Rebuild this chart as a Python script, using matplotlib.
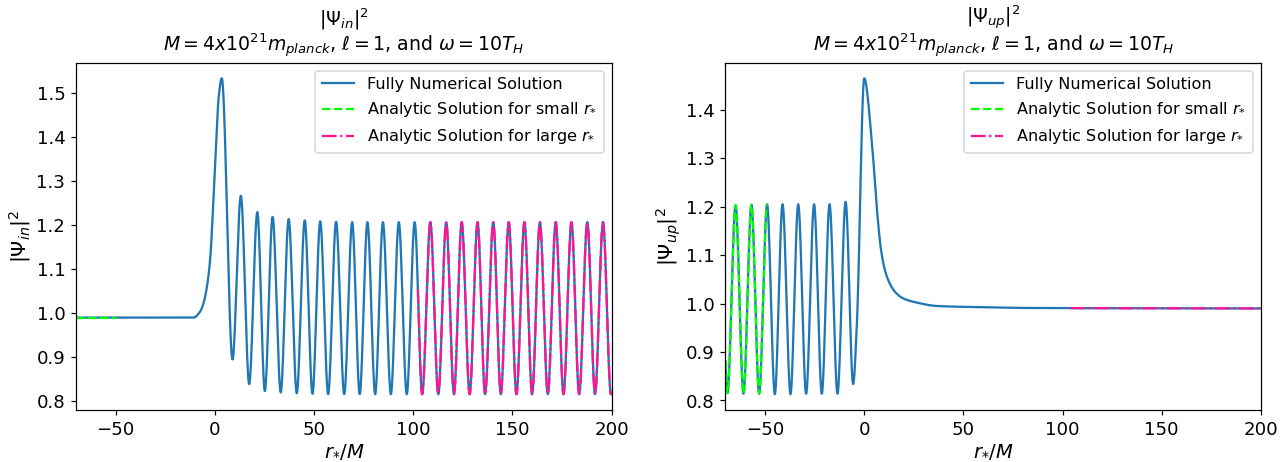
import numpy as np
import matplotlib
matplotlib.use("Agg")
import matplotlib.pyplot as plt

# |Psi_in|^2 : turning points / shape knots of the numerical solution
in_rs = [-70.0, -10.8, -7.4, -5.7, -4.0, -2.4, -0.7, 0.6, 1.9, 3.5,
         8.9, 13.1, 17.3, 21.4, 25.2, 29.1, 33.2, 37.2, 41.3, 45.3,
         49.2, 53.1, 57.1, 61.1, 65.2, 69.2, 73.0, 76.9, 80.8, 84.7,
         88.7, 92.7, 96.7, 100.7, 104.5, 108.6, 112.6, 116.6, 120.5, 124.4,
         128.4, 132.4, 136.2, 140.3, 144.1, 148.1, 152.0, 156.0, 159.9, 163.8,
         167.8, 171.8, 175.7, 179.7, 183.6, 187.7, 191.6, 195.6, 199.6, 200.0]
in_psi = [0.990, 0.990, 1.004, 1.023, 1.060, 1.121, 1.258, 1.380, 1.490, 1.534,
          0.895, 1.267, 0.839, 1.230, 0.823, 1.219, 0.820, 1.214, 0.818, 1.211,
          0.817, 1.209, 0.816, 1.208, 0.816, 1.207, 0.816, 1.207, 0.816, 1.207,
          0.816, 1.207, 0.816, 1.207, 0.816, 1.207, 0.816, 1.207, 0.816, 1.207,
          0.816, 1.207, 0.816, 1.207, 0.816, 1.207, 0.816, 1.207, 0.816, 1.207,
          0.816, 1.207, 0.816, 1.207, 0.816, 1.207, 0.816, 1.207, 0.816, 0.817]

# |Psi_up|^2
up_rs = [-70.0, -69.0, -64.9, -60.9, -56.9, -53.0, -49.0, -45.1, -41.2, -37.2,
         -33.3, -29.3, -25.3, -21.4, -17.5, -13.5, -9.4, -5.6, -3.7, 0.0,
         3.9, 6.4, 8.5, 10.5, 12.8, 16.0, 20.0, 26.6, 36.7, 53.5, 80.0, 200.0]
up_psi = [0.880, 0.815, 1.203, 0.814, 1.204, 0.814, 1.205, 0.813, 1.205, 0.813,
          1.205, 0.814, 1.205, 0.814, 1.205, 0.814, 1.210, 0.834, 0.960, 1.465,
          1.331, 1.194, 1.110, 1.068, 1.042, 1.022, 1.010, 1.002, 0.995, 0.993, 0.991, 0.990]

# where the asymptotic solutions are valid
in_small_end, in_large_start = -50.0, 102.3
up_small_end, up_large_start = -49.0, 104.0


def smooth_curve(xk, yk, num=8000):
    # monotone cubic (Fritsch-Carlson) through the knots
    xk = np.asarray(xk, float)
    yk = np.asarray(yk, float)
    h = np.diff(xk)
    d = np.diff(yk) / h
    m = np.zeros_like(xk)
    m[0], m[-1] = d[0], d[-1]
    for i in range(1, len(xk) - 1):
        if d[i - 1] * d[i] > 0:
            w1 = 2 * h[i] + h[i - 1]
            w2 = h[i] + 2 * h[i - 1]
            m[i] = (w1 + w2) / (w1 / d[i - 1] + w2 / d[i])
    xs = np.linspace(xk[0], xk[-1], num)
    k = np.clip(np.searchsorted(xk, xs, side="right") - 1, 0, len(xk) - 2)
    t = (xs - xk[k]) / h[k]
    h00 = 2 * t**3 - 3 * t**2 + 1
    h10 = t**3 - 2 * t**2 + t
    h01 = -2 * t**3 + 3 * t**2
    h11 = t**3 - t**2
    ys = h00 * yk[k] + h10 * h[k] * m[k] + h01 * yk[k + 1] + h11 * h[k] * m[k + 1]
    return xs, ys


fig = plt.figure(figsize=(11.79, 4.24), dpi=109)
ax1 = fig.add_axes([0.0591, 0.1126, 0.4169, 0.7517])
ax2 = fig.add_axes([0.5645, 0.1126, 0.4166, 0.7517])

panels = [
    (ax1, in_rs, in_psi, in_small_end, in_large_start, "in"),
    (ax2, up_rs, up_psi, up_small_end, up_large_start, "up"),
]

for ax, rs, psi, small_end, large_start, tag in panels:
    x, y = smooth_curve(rs, psi)
    small = x <= small_end
    large = x >= large_start
    ax.plot(x, y, color="#1f77b4", lw=1.5, label="Fully Numerical Solution")
    ax.plot(x[small], y[small], "--", color="#00ff00", lw=1.5,
            label="Analytic Solution for small $r_{*}$")
    ax.plot(x[large], y[large], "-.", color="#ff1493", lw=1.5,
            label="Analytic Solution for large $r_{*}$")
    ax.set_xlim(-70, 200)
    ax.tick_params(labelsize=12)
    ax.set_xlabel("$r_{*}/M$", fontsize=13, labelpad=2)
    ax.set_ylabel("$|\\Psi_{%s}|^2$" % tag, fontsize=13.5, labelpad=2)
    ax.set_title("$|\\Psi_{%s}|^2$\n$M = 4x10^{21} m_{planck}$, $\\ell = 1$, and $\\omega = 10T_H$" % tag,
                 fontsize=12.5, linespacing=1.0, pad=7)
    ax.legend(loc="upper right", fontsize=10.7)

fig.savefig("out.png", dpi=109)
